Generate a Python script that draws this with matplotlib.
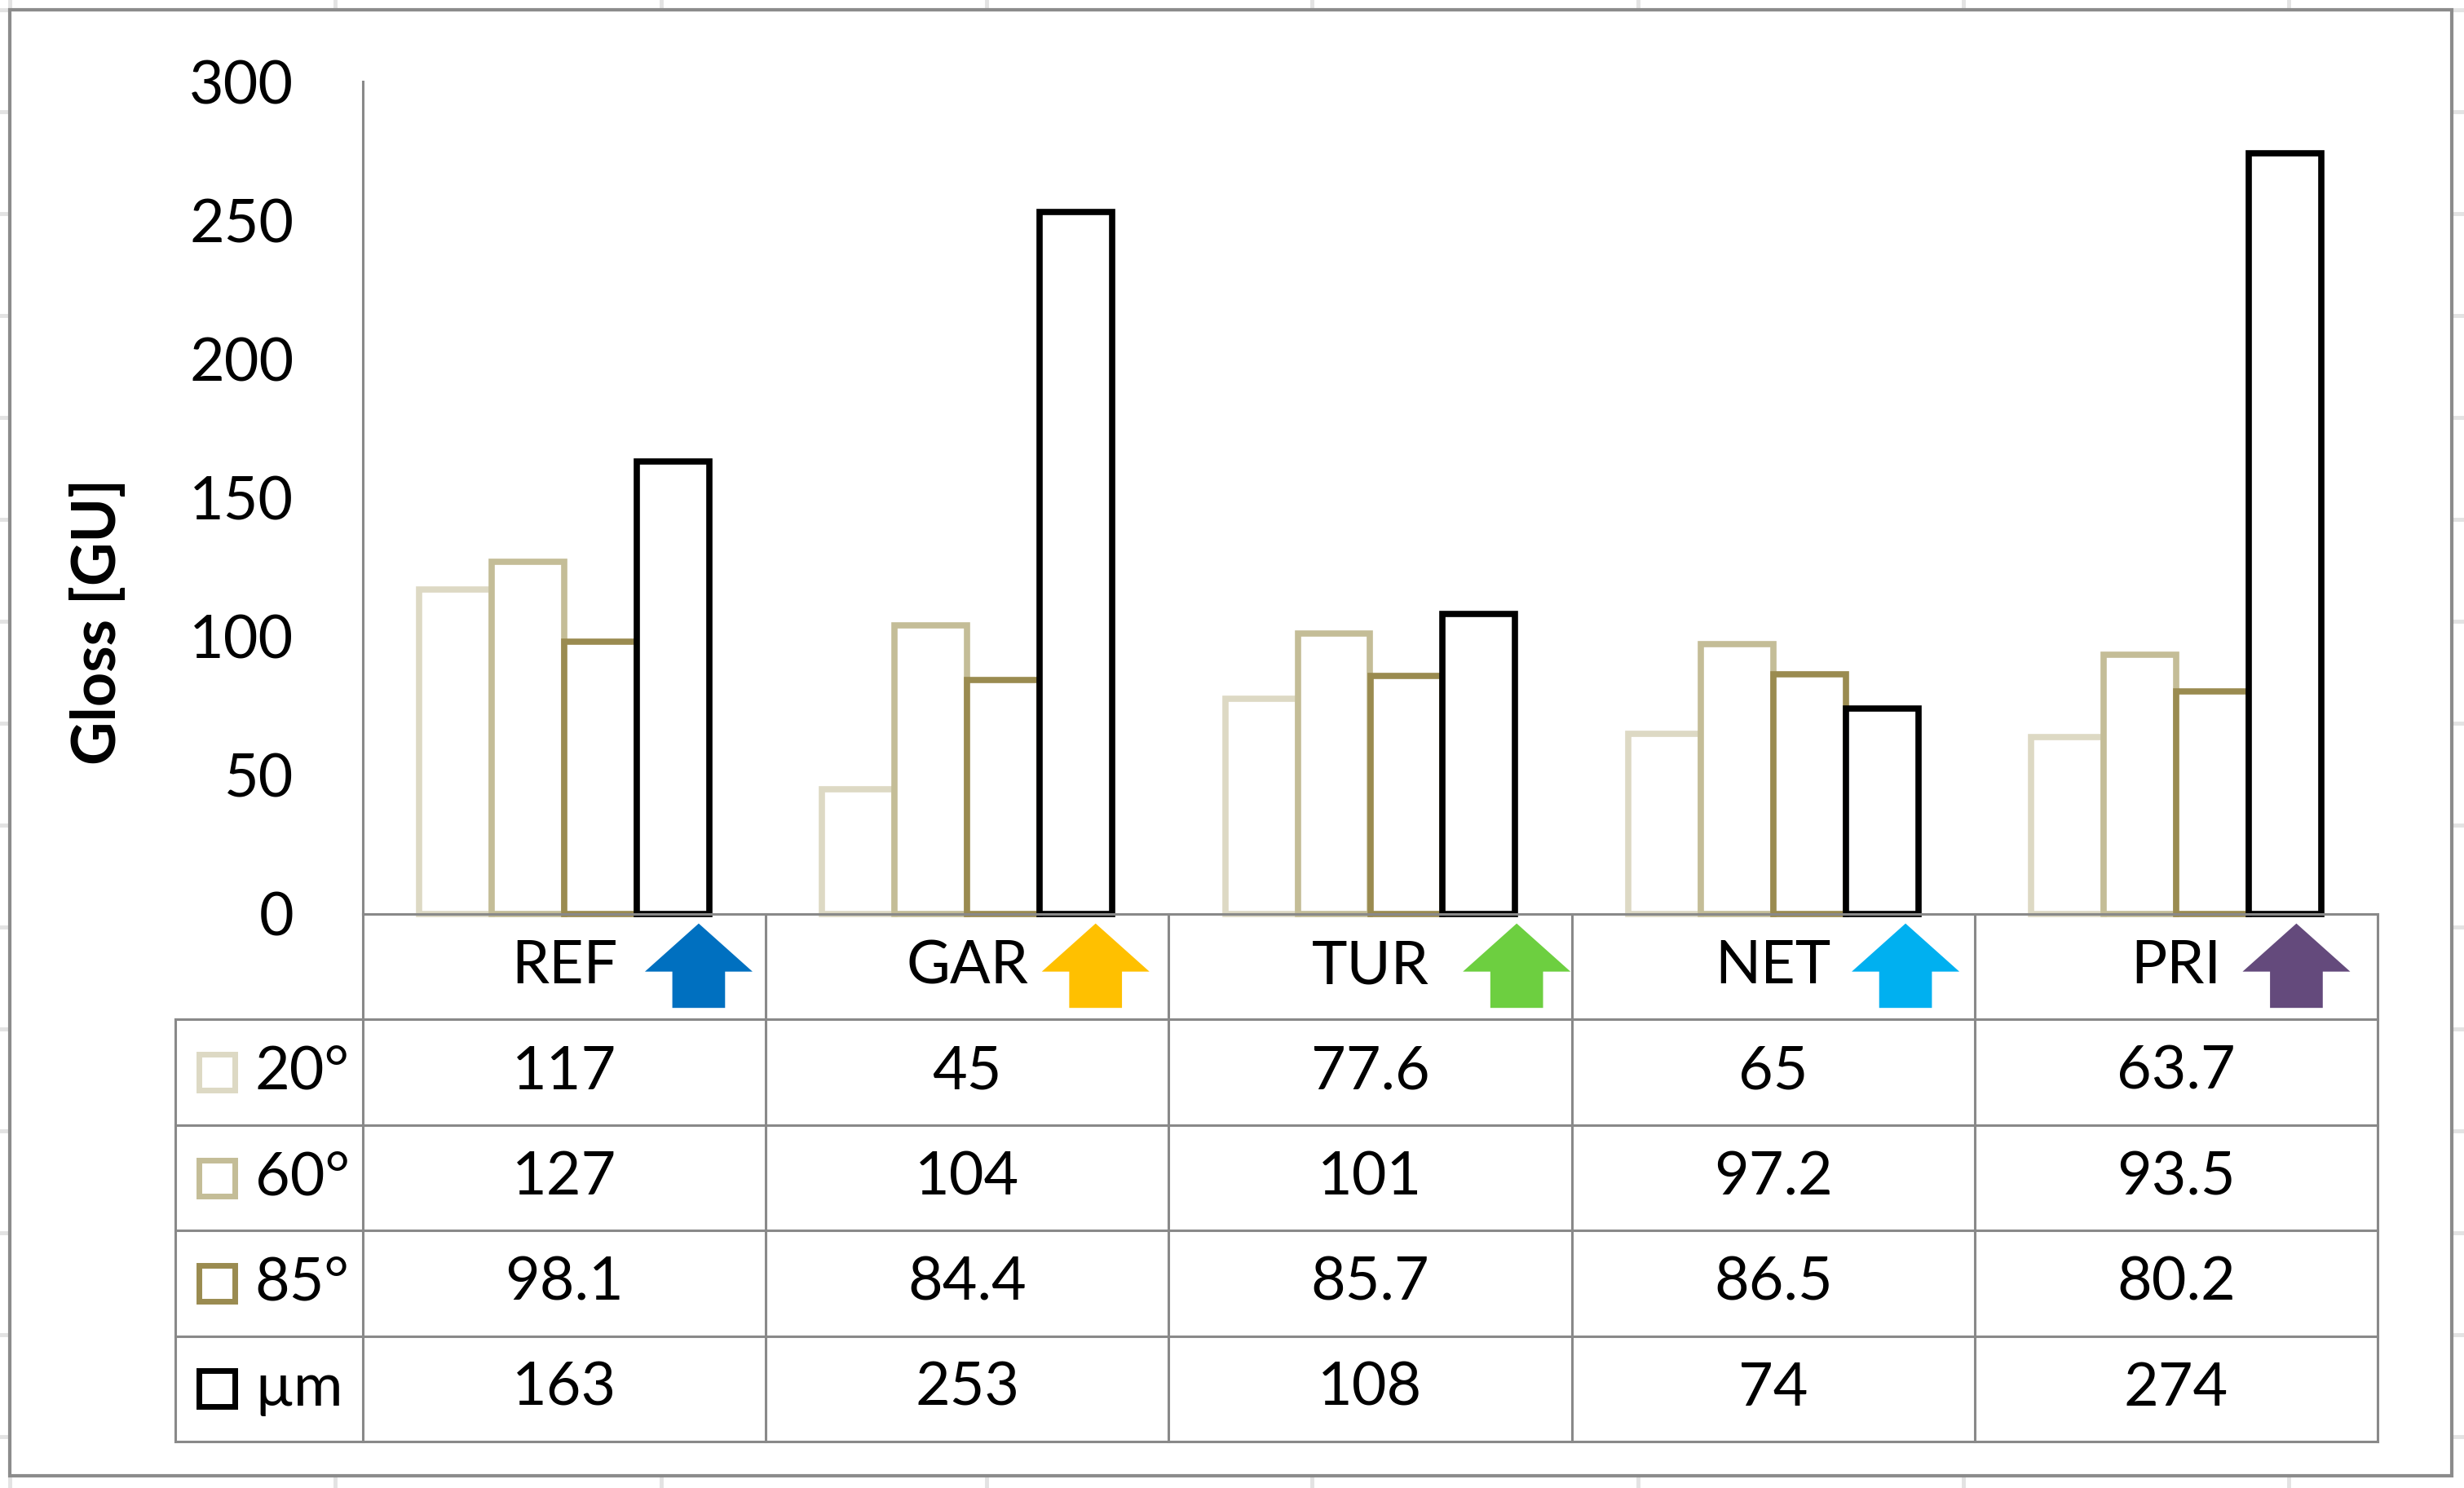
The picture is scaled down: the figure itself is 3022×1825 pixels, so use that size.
import matplotlib
matplotlib.use("Agg")
import matplotlib.pyplot as plt
import numpy as np
from matplotlib.patches import Rectangle, Polygon

plt.rcParams['font.family'] = ['Lato', 'DejaVu Sans']

CATEGORIES = ["REF", "GAR", "TUR", "NET", "PRI"]
SERIES = ["20°", "60°", "85°", "µm"]
GLOSS_20 = [117, 45, 77.6, 65, 63.7]
GLOSS_60 = [127, 104, 101, 97.2, 93.5]
GLOSS_85 = [98.1, 84.4, 85.7, 86.5, 80.2]
THICKNESS_UM = [163, 253, 108, 74, 274]
Y_TICKS = [0, 50, 100, 150, 200, 250, 300]

SERIES_COLORS = ["#DDD9C4", "#C4BD97", "#9A8B50", "#000000"]
ARROW_COLORS = ["#0070C0", "#FFC000", "#6DCF40", "#00B0F0", "#644A7C"]
# left edge of each arrow picture, measured from the category centre (category units)
ARROW_SHIFT = [0.20, 0.185, 0.23, 0.195, 0.165]

W, H = 3022, 1825
DPI = 100
LINE_GREY = "#898989"
FONT_SIZE = 53

# layout in pixels (top-left origin)
PLOT_L, PLOT_R = 445, 2916
PLOT_T, PLOT_B = 100, 1121
TABLE_L, TABLE_B = 215, 1768


def frac(x0, y0, x1, y1):
    return [x0 / W, 1 - y1 / H, (x1 - x0) / W, (y1 - y0) / H]


fig = plt.figure(figsize=(W / DPI, H / DPI), dpi=DPI)

# spreadsheet cells behind the chart + chart border
bg = fig.add_axes([0, 0, 1, 1])
bg.set_xlim(0, W)
bg.set_ylim(H, 0)
bg.axis("off")
for gx in 12 + 399.3 * np.arange(8):
    bg.axvline(gx, color="#E3E3E3", lw=3.5, zorder=1)
for gy in 12 + 125 * np.arange(15):
    bg.axhline(gy, color="#E3E3E3", lw=3.5, zorder=1)
bg.add_patch(Rectangle((12, 12), 2995, 1798, facecolor="white",
                       edgecolor="#8C8C8C", lw=3, zorder=3))

# bars
ax = fig.add_axes(frac(PLOT_L, PLOT_T, PLOT_R, PLOT_B))
ax.patch.set_visible(False)
x = np.arange(len(CATEGORIES))
bw = 0.18
series_values = [GLOSS_20, GLOSS_60, GLOSS_85, THICKNESS_UM]
for k, (vals, col) in enumerate(zip(series_values, SERIES_COLORS)):
    ax.bar(x + (k - 1.5) * bw, vals, width=bw, facecolor="white",
           edgecolor=col, linewidth=5.5, clip_on=False, zorder=2)

ax.set_xlim(-0.5, len(CATEGORIES) - 0.5)
ax.set_ylim(0, 300)
ax.set_yticks(Y_TICKS)
ax.set_xticks([])
ax.tick_params(axis="y", length=0, pad=61, labelsize=FONT_SIZE)
for s in ["top", "right"]:
    ax.spines[s].set_visible(False)
for s in ["left", "bottom"]:
    ax.spines[s].set_color(LINE_GREY)
    ax.spines[s].set_linewidth(2.2)

fig.text(120 / W, 1 - 762 / H, "Gloss [GU]", rotation=90, ha="center",
         va="center", fontsize=FONT_SIZE, fontweight="bold")

# data table under the plot
tax = fig.add_axes(frac(TABLE_L, PLOT_B, PLOT_R, TABLE_B))
tax.patch.set_visible(False)
cat_w = (PLOT_R - PLOT_L) / len(CATEGORIES)
x_left = -0.5 - (PLOT_L - TABLE_L) / cat_w
x_right = len(CATEGORIES) - 0.5
n_rows = len(SERIES) + 1
tax.set_xlim(x_left, x_right)
tax.set_ylim(n_rows, 0)
tax.axis("off")

line_kw = dict(color=LINE_GREY, lw=2.2, clip_on=False, solid_capstyle="projecting")
for r in range(1, n_rows + 1):
    tax.plot([x_left, x_right], [r, r], **line_kw)
for c in range(len(CATEGORIES) + 1):
    tax.plot([c - 0.5, c - 0.5], [0, n_rows], **line_kw)
tax.plot([x_left, x_left], [1, n_rows], **line_kw)

for i, cat in enumerate(CATEGORIES):
    tax.text(i, 0.5, cat, ha="center", va="center", fontsize=FONT_SIZE)
    # arrow picture next to the category name
    aw = 132 / cat_w
    xl = i + ARROW_SHIFT[i]
    yt, yb = 0.09, 0.89
    yh = yt + 0.57 * (yb - yt)
    sh = 0.245 * aw
    xc = xl + aw / 2
    pts = [(xc, yt), (xl + aw, yh), (xc + sh, yh), (xc + sh, yb),
           (xc - sh, yb), (xc - sh, yh), (xl, yh)]
    tax.add_patch(Polygon(pts, closed=True, facecolor=ARROW_COLORS[i],
                          edgecolor="none", clip_on=False))

for k, (name, vals, col) in enumerate(zip(SERIES, series_values, SERIES_COLORS)):
    yrow = k + 1.5
    tax.plot([x_left + 0.103], [yrow], marker="s", markersize=32,
             markerfacecolor="white", markeredgecolor=col,
             markeredgewidth=5, clip_on=False)
    tax.text(x_left + 0.198, yrow, name, ha="left", va="center",
             fontsize=FONT_SIZE)
    for i, v in enumerate(vals):
        tax.text(i, yrow, f"{v:g}", ha="center", va="center",
                 fontsize=FONT_SIZE)

fig.savefig("out.png", dpi=DPI)
